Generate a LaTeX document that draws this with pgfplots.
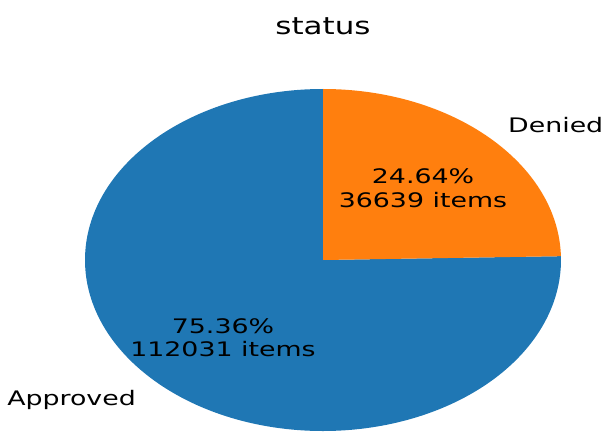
\documentclass[border=0pt]{standalone}
\usepackage{pgfplots}
\pgfplotsset{compat=1.18}
\usepackage{fontspec}
\setmainfont{DejaVu Sans}
\definecolor{tabblue}{HTML}{1F77B4}
\definecolor{taborange}{HTML}{FF7F0E}
\newcommand{\sx}[1]{\scalebox{1.34}[1]{#1}}
\newcommand{\st}[1]{\scalebox{1.29}[1]{#1}}
% data
\def\approved{112031}
\def\denied{36639}
\edef\angA{\fpeval{360*\approved/(\approved+\denied)}}
\begin{document}
\begin{tikzpicture}
\begin{axis}[x=1pt,y=1pt,xmin=0,xmax=602,ymin=0,ymax=432,hide axis,clip=true,
  anchor=south west,at={(0,0)}]
\fill[tabblue] (axis cs:323,172) -- (axis cs:323,343)
  arc[start angle=90,end angle={90+\angA},x radius=238pt,y radius=171pt] -- cycle;
\fill[taborange] (axis cs:323,172) -- (axis cs:323,343)
  arc[start angle=90,end angle={90+\angA-360},x radius=238pt,y radius=171pt] -- cycle;
\node[anchor=base,inner sep=0,font=\fontsize{24}{29}\selectfont] at (axis cs:323,397) {\st{status}};
\node[anchor=base west,inner sep=0,font=\fontsize{20}{24}\selectfont] at (axis cs:508,300) {\sx{Denied}};
\node[anchor=base east,inner sep=0,font=\fontsize{20}{24}\selectfont] at (axis cs:136,27) {\sx{Approved}};
\node[anchor=base,inner sep=0,font=\fontsize{20}{24}\selectfont] at (axis cs:423,249) {\sx{24.64\%}};
\node[anchor=base,inner sep=0,font=\fontsize{20}{24}\selectfont] at (axis cs:423,225) {\sx{36639 items}};
\node[anchor=base,inner sep=0,font=\fontsize{20}{24}\selectfont] at (axis cs:223,99) {\sx{75.36\%}};
\node[anchor=base,inner sep=0,font=\fontsize{20}{24}\selectfont] at (axis cs:223,76) {\sx{112031 items}};
\end{axis}
\pgfresetboundingbox
\useasboundingbox (0,0) rectangle (602pt,432pt);
\end{tikzpicture}
\end{document}
